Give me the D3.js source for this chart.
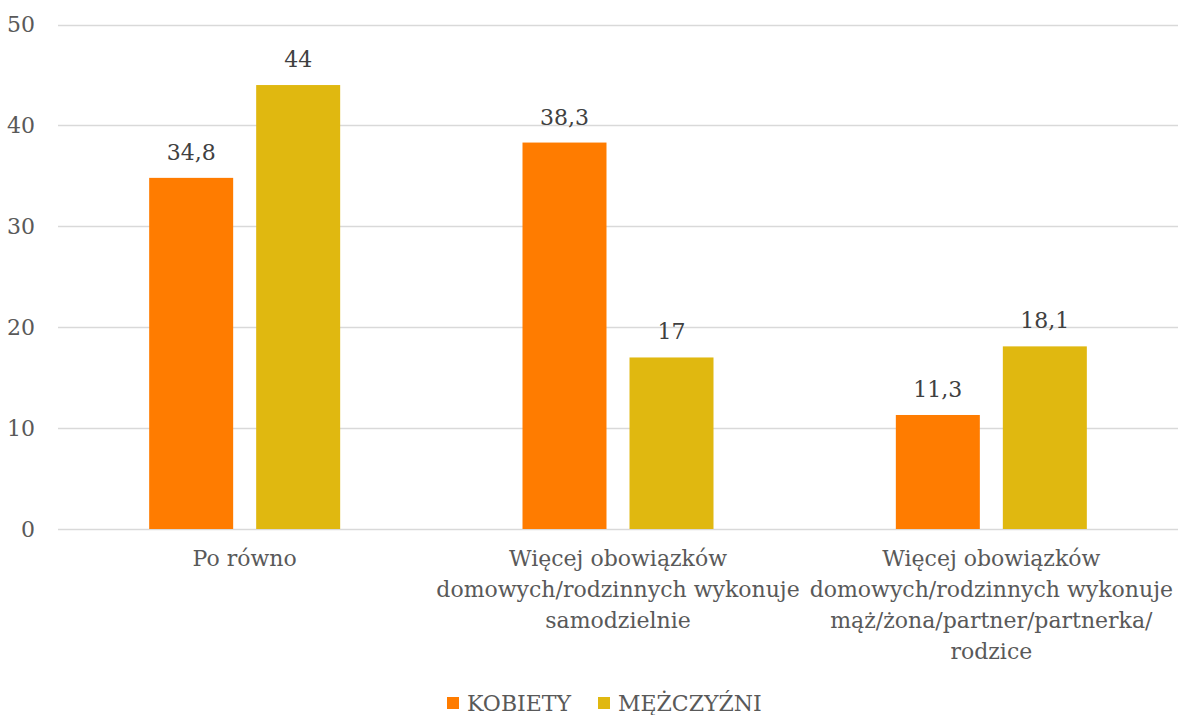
<!DOCTYPE html>
<html>
<head>
<meta charset="utf-8">
<script src="https://cdn.jsdelivr.net/npm/d3@7"></script>
<style>
  body { margin: 0; background: #fff; }
  text { font-family: "DejaVu Serif", serif; fill: #595959; }
</style>
</head>
<body>
<script>
const width = 1179,
    height = 715

const categories = [
    ["Po równo"],
    ["Więcej obowiązków", "domowych/rodzinnych wykonuje", "samodzielnie"],
    ["Więcej obowiązków", "domowych/rodzinnych wykonuje", "mąż/żona/partner/partnerka/", "rodzice"]
]
const seriesNames = ["KOBIETY", "MĘŻCZYŹNI"]
const kobiety = [34.8, 38.3, 11.3]
const mezczyzni = [44, 17, 18.1]
const yTicks = [0, 10, 20, 30, 40, 50]
const colors = ["#FF7C00", "#E0B810"]

const margin = { top: 24, right: 1, bottom: 186, left: 58 }
const fontSize = "22px"

const svg = d3.select("body")
    .append("svg")
    .attr("width", width)
    .attr("height", height)

const x = d3.scaleBand()
    .domain(d3.range(categories.length))
    .range([margin.left, width - margin.right])

const x1 = d3.scaleBand()
    .domain(d3.range(seriesNames.length))
    .range([0, x.bandwidth()])
    .paddingInner(0.215)
    .paddingOuter(0.852)

const y = d3.scaleLinear()
    .domain([0, 50])
    .range([height - margin.bottom, margin.top + 0.5])

// grid
svg.append("g")
    .selectAll("line")
    .data(yTicks)
    .join("line")
    .attr("x1", margin.left)
    .attr("x2", width - margin.right)
    .attr("y1", d => Math.round(y(d)) + 0.5)
    .attr("y2", d => Math.round(y(d)) + 0.5)
    .attr("stroke", "#D9D9D9")
    .attr("stroke-width", 1.5)

svg.append("g")
    .selectAll("text")
    .data(yTicks)
    .join("text")
    .attr("x", 35)
    .attr("y", d => y(d))
    .attr("dy", "0.35em")
    .attr("text-anchor", "end")
    .style("font-size", fontSize)
    .text(d => d)

const rows = categories.map((c, i) => [kobiety[i], mezczyzni[i]])

const groups = svg.append("g")
    .selectAll("g")
    .data(rows)
    .join("g")
    .attr("transform", (d, i) => `translate(${x(i)},0)`)

groups.selectAll("rect")
    .data(d => d)
    .join("rect")
    .attr("x", (d, j) => x1(j))
    .attr("width", x1.bandwidth())
    .attr("y", d => y(d))
    .attr("height", d => y(0) - y(d))
    .attr("fill", (d, j) => colors[j])

groups.selectAll("text")
    .data(d => d)
    .join("text")
    .attr("x", (d, j) => x1(j) + x1.bandwidth() / 2)
    .attr("y", d => y(d) - 18)
    .attr("text-anchor", "middle")
    .style("font-size", fontSize)
    .style("fill", "#404040")
    .text(d => String(d).replace(".", ","))

// category labels
svg.append("g")
    .selectAll("text")
    .data(categories)
    .join("text")
    .attr("text-anchor", "middle")
    .attr("y", 566)
    .style("font-size", fontSize)
    .each(function(lines, i) {
        d3.select(this).selectAll("tspan")
            .data(lines)
            .join("tspan")
            .attr("x", x(i) + x.bandwidth() / 2)
            .attr("dy", (l, k) => k === 0 ? 0 : 31)
            .text(l => l)
    })

// legend
const legend = svg.append("g")
    .selectAll("g")
    .data(seriesNames)
    .join("g")
    .attr("transform", (d, i) => `translate(${[447, 598][i]},697)`)

legend.append("rect")
    .attr("width", 12)
    .attr("height", 12)
    .attr("fill", (d, i) => colors[i])

legend.append("text")
    .attr("x", 20)
    .attr("y", 6)
    .attr("dy", "0.35em")
    .style("font-size", fontSize)
    .text(d => d)
</script>
</body>
</html>
